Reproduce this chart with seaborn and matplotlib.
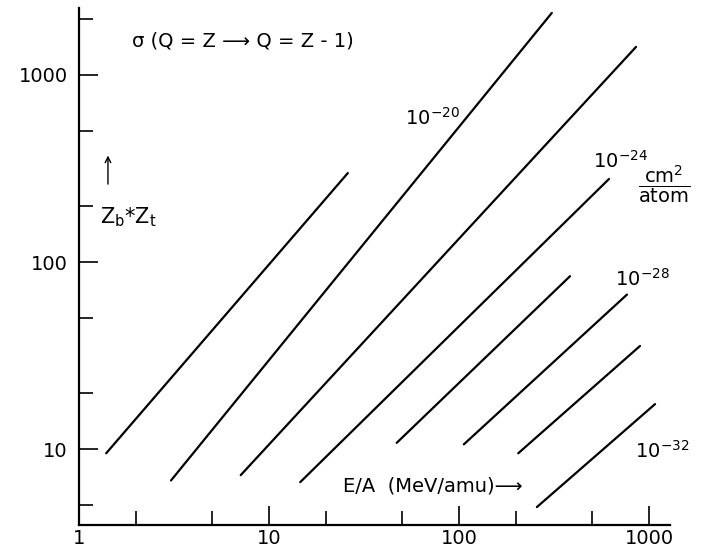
import matplotlib
matplotlib.use("Agg")
import matplotlib.pyplot as plt
import matplotlib.ticker as mticker
import pandas as pd
import seaborn as sns

# end points of each straight line (log-log)
line_id = [1, 1, 2, 2, 3, 3, 4, 4, 5, 5, 6, 6, 7, 7, 8, 8]
energy = [1.39, 26, 3.05, 308, 7.1, 855, 14.6, 616,
          47, 384, 106, 766, 205, 897, 257, 1076]
zz = [9.5, 299, 6.8, 2146, 7.26, 1413, 6.66, 278,
      10.8, 84, 10.6, 67, 9.5, 35.6, 4.9, 17.4]

x_major = [1, 10, 100, 1000]
x_minor = [2, 5, 20, 50, 200, 500]
y_major = [10, 100, 1000]
y_minor = [5, 20, 50, 200, 500, 2000]
x_labels = ["1", "10", "100", "1000"]
y_labels = ["10", "100", "1000"]

df = pd.DataFrame({"line": line_id, "E": energy, "Z": zz})

sns.set_style("ticks")
plt.rcParams["font.family"] = ["DejaVu Sans"]
plt.rcParams["text.color"] = "black"

fig = plt.figure(figsize=(7.08, 5.51), dpi=100)
ax = fig.add_axes([79 / 708, 1 - 525 / 551, 591 / 708, 517 / 551])

sns.lineplot(
    data=df,
    x="E",
    y="Z",
    units="line",
    estimator=None,
    color="black",
    linewidth=1.6,
    ax=ax
)

ax.set_xscale("log")
ax.set_yscale("log")
ax.set_xlim(1, 1290)
ax.set_ylim(3.93, 2280)

ax.xaxis.set_major_locator(mticker.FixedLocator(x_major))
ax.xaxis.set_minor_locator(mticker.FixedLocator(x_minor))
ax.yaxis.set_major_locator(mticker.FixedLocator(y_major))
ax.yaxis.set_minor_locator(mticker.FixedLocator(y_minor))
ax.set_xticklabels(x_labels)
ax.yaxis.set_minor_formatter(mticker.NullFormatter())
ax.xaxis.set_minor_formatter(mticker.NullFormatter())
ax.set_yticklabels(y_labels)

ax.tick_params(which="both", direction="in", width=1.2, colors="black",
               labelsize=14)
ax.tick_params(which="major", length=14)
ax.tick_params(which="minor", length=10)
ax.tick_params(axis="x", pad=3)
ax.tick_params(axis="y", pad=8)

sns.despine(ax=ax)
for side in ["left", "bottom"]:
    ax.spines[side].set_linewidth(1.6)
    ax.spines[side].set_color("black")

ax.set_xlabel("")
ax.set_ylabel("")

fs = 14
ax.text(0.09, 0.936, "σ (Q = Z ⟶ Q = Z - 1)", transform=ax.transAxes,
        fontsize=fs, va="center", ha="left")
ax.annotate("", xy=(0.049, 0.72), xytext=(0.049, 0.654),
            xycoords="axes fraction",
            arrowprops=dict(arrowstyle="->", color="black", lw=1.0))
ax.text(0.036, 0.584, r"Z$_\mathrm{b}$*Z$_\mathrm{t}$", transform=ax.transAxes,
        fontsize=fs + 1, va="baseline", ha="left")
ax.text(0.552, 0.774, r"10$^{-20}$", transform=ax.transAxes,
        fontsize=fs, va="baseline", ha="left")
ax.text(0.87, 0.69, r"10$^{-24}$", transform=ax.transAxes,
        fontsize=fs, va="baseline", ha="left")
ax.text(0.99, 0.66, r"$\dfrac{\mathrm{cm}^2}{\mathrm{atom}}$",
        transform=ax.transAxes, fontsize=fs, va="center", ha="center")
ax.text(0.907, 0.462, r"10$^{-28}$", transform=ax.transAxes,
        fontsize=fs, va="baseline", ha="left")
ax.text(0.941, 0.13, r"10$^{-32}$", transform=ax.transAxes,
        fontsize=fs, va="baseline", ha="left")
ax.text(0.447, 0.064, "E/A  (MeV/amu)⟶", transform=ax.transAxes,
        fontsize=fs, va="baseline", ha="left")

fig.savefig("out.png", dpi=100)
